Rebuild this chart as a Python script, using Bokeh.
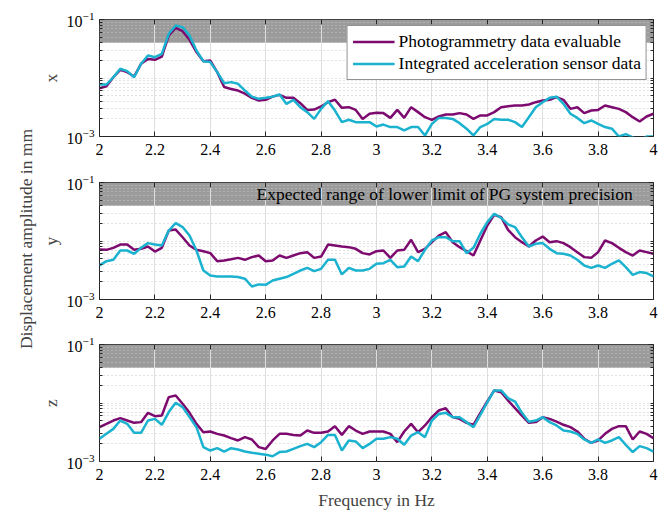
from bokeh.plotting import figure
from bokeh.models import (FixedTicker, LogAxis, LinearAxis, BoxAnnotation, Label, Title,
                          Legend, LegendItem, CustomJSTickFormatter, Range1d)
from bokeh.layouts import column, row
from bokeh.embed import file_html
from bokeh.resources import INLINE

# ---------------- data ----------------
# frequency grid (Hz), 0.025 Hz resolution
freq = [round(2 + 0.025 * i, 3) for i in range(81)]

# displacement amplitudes, in 1e-3 mm
x_pg = [6.7, 7.2, 10.3, 13.8, 12.6, 10.6, 17.5, 21.2, 20.5, 23.3, 53.3, 72, 63, 45, 27.7,
        19.4, 19.9, 12.6, 7.0, 6.5, 6.1, 5.4, 4.58, 4.13, 4.24, 4.8, 5.15, 4.58, 4.58, 3.71,
        2.85, 2.89, 3.26, 3.86, 4.24, 3.09, 3.17, 2.85, 2.0, 2.45, 2.54,
        2.51, 2.08, 2.85, 2.08, 3.17, 2.61, 2.14, 1.93, 2.2, 2.38, 2.38, 2.51, 2.38, 2.0,
        2.29, 2.29, 2.61, 3.17, 3.30, 3.38, 3.38, 3.52, 3.86, 4.13, 4.24, 4.71, 4.24, 2.97,
        3.17, 2.51, 2.78, 2.85, 3.38, 3.17, 2.97, 2.61, 2.14, 1.8, 2.2, 2.45]
x_acc = [7.74, 7.74, 10.3, 14.4, 13.1, 10.3, 17.5, 24.2, 22.7, 25.9, 56.9, 79, 74, 53, 29.5,
         19.4, 18.7, 12.6, 8.16, 8.5, 7.95, 6.1, 4.8, 4.4, 4.58, 4.8, 5.22, 3.61, 4.24, 3.17,
         2.61, 2.0, 2.97, 4.02, 2.78, 1.76, 1.93, 1.76, 1.76, 1.76, 1.48,
         1.6, 1.45, 1.45, 1.27, 1.45, 1.45, 1.04, 1.64, 2.08, 2.08, 2.0, 1.69, 1.36, 1.04,
         1.45, 1.64, 2.0, 1.93, 1.93, 1.76, 1.45, 2.14, 3.17, 3.86, 4.58, 4.8, 3.61, 2.45,
         2.08, 1.69, 1.88, 1.64, 1.45, 1.36, 1.0, 1.1, 0.97, 0.86, 1.0, 1.0]
y_pg = [7.15, 7.06, 7.64, 8.7, 8.7, 7.06, 7.35, 8.05, 6.6, 7.64, 15.1, 15.7, 11.6, 8.38, 7.06,
        6.7, 6.2, 4.52, 4.65, 4.89, 5.15, 4.77, 5.3, 5.65, 4.52, 4.65, 5.65, 5.15, 5.65, 6.2,
        6.45, 5.15, 5.43, 8.7, 8.38, 8.05, 7.85, 7.35, 6.2, 5.88, 6.7,
        6.88, 5.15, 6.88, 7.06, 10.5, 6.45, 7.35, 9.55, 12.4, 14.2, 9.55, 7.85, 6.7, 5.65,
        10.2, 18.4, 28.0, 25.5, 15.5, 11.6, 9.55, 8.05, 10.2, 11.9, 9.55, 9.94, 9.2, 7.85,
        6.45, 5.3, 5.15, 6.45, 10.2, 9.2, 7.64, 6.45, 5.65, 6.88, 6.45, 6.05]
y_acc = [3.81, 4.52, 4.77, 6.88, 6.88, 6.05, 7.64, 9.2, 8.7, 8.38, 15.1, 20.2, 17.3, 12.4, 6.88,
         3.13, 2.57, 2.48, 2.48, 2.48, 2.42, 2.27, 1.67, 1.81, 1.78, 2.11, 2.27, 2.42, 2.75,
         3.13, 3.48, 3.05, 3.34, 4.77, 4.77, 2.68, 3.48, 3.13, 3.13, 3.34, 4.08,
         4.18, 4.77, 3.57, 3.67, 5.43, 4.52, 7.06, 10.2, 11.6, 11.6, 9.94, 9.94, 6.2, 7.64,
         13.3, 21.0, 29.2, 24.9, 19.2, 17.3, 11.6, 8.05, 8.95, 9.2, 7.35, 6.2, 6.05, 5.65,
         4.77, 3.81, 3.48, 3.81, 3.48, 4.08, 4.65, 3.57, 2.64, 2.94, 2.83, 2.48]
z_pg = [3.86, 4.4, 5.02, 5.5, 5.02, 4.58, 4.71, 6.79, 5.96, 6.1, 12.6, 13.4, 9.7, 6.79, 4.4,
        3.17, 3.26, 2.97, 2.78, 2.51, 2.29, 2.61, 2.38, 1.76, 1.64, 2.29, 2.97, 2.97, 2.85,
        2.78, 3.38, 3.09, 3.09, 3.26, 4.02, 2.85, 4.02, 3.38, 2.97, 3.26, 3.26,
        3.26, 2.97, 2.14, 3.26, 4.4, 3.17, 4.13, 5.73, 7.44, 8.16, 5.73, 5.36, 4.58, 4.24,
        6.79, 10.6, 16.4, 15.3, 11.0, 8.16, 6.1, 4.58, 4.71, 5.73, 5.36, 4.8, 4.24, 3.86,
        3.26, 2.45, 2.08, 2.29, 2.97, 3.61, 4.02, 4.02, 2.38, 3.26, 2.97, 2.51]
z_acc = [2.45, 2.97, 3.61, 5.02, 4.4, 3.09, 3.09, 5.02, 5.36, 4.24, 7.0, 10.1, 8.5, 5.73, 3.86,
         1.76, 1.54, 1.69, 1.48, 1.69, 1.6, 1.48, 1.41, 1.36, 1.31, 1.23, 1.45, 1.48, 1.64,
         1.83, 2.0, 1.76, 2.14, 2.85, 2.85, 1.54, 2.29, 2.2, 1.69, 2.0, 2.45,
         2.45, 2.61, 2.45, 1.93, 2.78, 3.17, 2.61, 5.02, 6.5, 6.79, 5.73, 5.73, 4.71, 3.86,
         6.28, 10.3, 16.4, 16.4, 12.1, 10.6, 6.79, 4.8, 5.02, 5.73, 4.71, 4.13, 3.38, 3.26,
         2.97, 2.38, 2.08, 2.38, 2.08, 2.29, 2.61, 1.93, 1.45, 1.83, 1.69, 1.48]

components = ["x", "y", "z"]
series_names = ["Photogrammetry data evaluable", "Integrated acceleration sensor data"]

# expected range of lower limit of PG system precision (mm)
band_low = 0.04
band_high = 0.1
band_text = "Expected range of lower limit of PG system precision"

x_ticks = [2, 2.2, 2.4, 2.6, 2.8, 3, 3.2, 3.4, 3.6, 3.8, 4]
y_ticks = [1e-3, 1e-1]
y_minor = [2e-3, 3e-3, 4e-3, 5e-3, 6e-3, 7e-3, 8e-3, 9e-3, 1e-2,
           2e-2, 3e-2, 4e-2, 5e-2, 6e-2, 7e-2, 8e-2, 9e-2]

# ---------------- style ----------------
FONT = "Liberation Serif"
FS = "17.5px"      # labels, legend, annotation
TFS = "16px"       # tick labels
PURPLE = "#7d0b6f"
CYAN = "#1bb2d0"
AXC = "#262626"
LEFT_W = 37


def to_mm(vals):
    return [v / 1000.0 for v in vals]


def style_axis_ticks(ax):
    ax.axis_line_color = None
    ax.major_tick_in = 5
    ax.major_tick_out = 0
    ax.minor_tick_in = 3
    ax.minor_tick_out = 0
    ax.major_tick_line_color = AXC
    ax.minor_tick_line_color = AXC


def make_fig(h, top, bottom, comp, pg, acc, xlabel=None):
    p = figure(width=666 - LEFT_W, height=h, x_range=Range1d(2, 4),
               y_range=Range1d(1e-3, 1e-1),
               y_axis_type="log", output_backend="svg", toolbar_location=None,
               min_border_left=97 - LEFT_W, min_border_right=13, min_border_top=top,
               min_border_bottom=bottom)
    p.outline_line_color = AXC
    p.outline_line_width = 1
    p.background_fill_color = "white"

    xt = FixedTicker(ticks=x_ticks)
    yt = FixedTicker(ticks=y_ticks, minor_ticks=y_minor)

    # bottom x axis
    xa = p.xaxis[0]
    xa.ticker = xt
    xa.formatter = CustomJSTickFormatter(code="return String(Math.round(tick*10)/10);")
    style_axis_ticks(xa)
    xa.minor_tick_line_color = None
    xa.major_label_text_font = FONT
    xa.major_label_text_font_size = TFS
    xa.major_label_text_color = "black"
    xa.major_label_standoff = 7
    if xlabel:
        xa.axis_label = xlabel
        xa.axis_label_text_font = FONT
        xa.axis_label_text_font_size = FS
        xa.axis_label_text_font_style = "normal"
        xa.axis_label_standoff = 7

    # left y axis
    ya = p.yaxis[0]
    ya.ticker = yt
    style_axis_ticks(ya)
    ya.major_label_text_font = FONT
    ya.major_label_text_font_size = TFS
    ya.major_label_text_color = "black"
    ya.major_label_standoff = 5
    ya.axis_label = comp
    ya.axis_label_text_font = FONT
    ya.axis_label_text_font_size = FS
    ya.axis_label_text_font_style = "normal"
    ya.axis_label_standoff = 3

    # box ticks on top / right (no labels)
    blank = CustomJSTickFormatter(code="return '';")
    ta = LinearAxis(ticker=xt, formatter=blank, major_label_standoff=0)
    style_axis_ticks(ta)
    ta.minor_tick_line_color = None
    p.add_layout(ta, "above")
    ra = LogAxis(ticker=yt, formatter=blank, major_label_standoff=0)
    style_axis_ticks(ra)
    p.add_layout(ra, "right")

    # grids
    p.xgrid.ticker = xt
    p.xgrid.grid_line_color = "#dedede"
    p.xgrid.grid_line_width = 1
    p.ygrid.ticker = yt
    p.ygrid.grid_line_color = None
    p.ygrid.minor_grid_line_color = "#c8c8c8"
    p.ygrid.minor_grid_line_dash = "1 3"
    p.ygrid.minor_grid_line_width = 1

    band = BoxAnnotation(bottom=band_low, top=band_high, fill_color="#9b9b9b",
                         fill_alpha=1.0, line_color=None, level="image")
    p.add_layout(band)

    r1 = p.line(freq, to_mm(pg), line_color=PURPLE, line_width=2.5)
    r2 = p.line(freq, to_mm(acc), line_color=CYAN, line_width=2.5)
    return p, r1, r2


f1, a1, b1 = make_fig(164, 19, 28, components[0], x_pg, x_acc)
f2, a2, b2 = make_fig(163, 18, 28, components[1], y_pg, y_acc)
f3, a3, b3 = make_fig(186, 17, 52, components[2], z_pg, z_acc, xlabel="Frequency in Hz")

legend = Legend(items=[LegendItem(label=series_names[0], renderers=[a1]),
                       LegendItem(label=series_names[1], renderers=[b1])],
                location="top_right")
legend.margin = 6
legend.padding = 5
legend.spacing = 1
legend.glyph_width = 42
legend.glyph_height = 21
legend.label_height = 21
legend.label_standoff = 4
legend.label_text_font = FONT
legend.label_text_font_size = FS
legend.label_text_color = "black"
legend.border_line_color = AXC
legend.border_line_width = 1
legend.background_fill_color = "white"
legend.background_fill_alpha = 1.0
f1.add_layout(legend)

f2.add_layout(Label(x=3.925, y=0.063, text=band_text, text_align="right",
                    text_baseline="middle", text_font=FONT, text_font_size=FS,
                    text_color="black"))

# narrow strip holding the common y label
lab = figure(width=LEFT_W, height=513, x_range=Range1d(0, 1), y_range=Range1d(0, 1),
             x_axis_location=None, y_axis_location=None, output_backend="svg",
             toolbar_location=None, min_border_left=LEFT_W - 2, min_border_right=1,
             min_border_top=0, min_border_bottom=36)
lab.outline_line_color = None
lab.grid.visible = False
lab.add_layout(Title(text="Displacement amplitude in mm", align="center",
                     text_font=FONT, text_font_size=FS, text_font_style="normal",
                     standoff=0, offset=0), "left")

layout = row(lab, column(f1, f2, f3, spacing=0), spacing=0)
open("out.html", "w").write(file_html(layout, INLINE))
